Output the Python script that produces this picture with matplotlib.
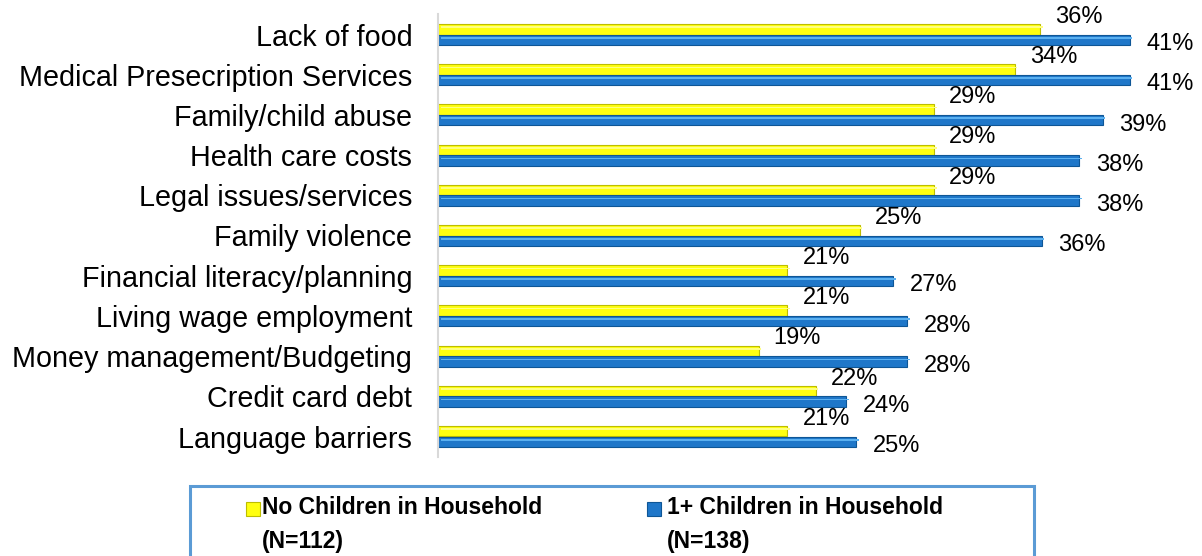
import numpy as np
import matplotlib
matplotlib.use("Agg")
from matplotlib import pyplot as plt
from matplotlib.patches import Rectangle

plt.rcParams['font.family'] = ['Liberation Sans', 'DejaVu Sans']

# data (top to bottom)
categories = ["Lack of food", "Medical Presecription Services", "Family/child abuse",
              "Health care costs", "Legal issues/services", "Family violence",
              "Financial literacy/planning", "Living wage employment",
              "Money management/Budgeting", "Credit card debt", "Language barriers"]
no_children = [35.7, 34.2, 29.4, 29.4, 29.4, 25.0, 20.7, 20.7, 19.0, 22.4, 20.7]
with_children = [41.0, 41.0, 39.4, 38.0, 38.0, 35.8, 27.0, 27.8, 27.8, 24.2, 24.8]
series_names = ["No Children in Household\n(N=112)", "1+ Children in Household\n(N=138)"]

fig = plt.figure(figsize=(12.02, 5.56), dpi=100)
ax = fig.add_axes([438/1202, 1-456.6/556, 764/1202, 442.2/556])

y = np.arange(len(categories))
h = 0.26

# yellow series: face + darker edge + light stripe
ax.barh(y - h/2, no_children, height=h, color='#FFFF10', edgecolor='#BDBD00', lw=0.8)
ax.barh(y - h/2 - 0.05, no_children, height=0.04, color='#FFFF80', lw=0, left=0.15)
# blue series
ax.barh(y + h/2, with_children, height=h, color='#1F77C9', edgecolor='#0E5696', lw=0.8)
ax.barh(y + h/2 - 0.05, with_children, height=0.04, color='#5AB0F0', lw=0, left=0.15)

# value labels
for yi, v in zip(y, no_children):
    ax.annotate('%.0f%%' % v, (v, yi - h/2), xytext=(28, 9.0), textcoords='offset points',
                ha='center', va='center', fontsize=17, annotation_clip=False)
for yi, v in zip(y, with_children):
    ax.annotate('%.0f%%' % v, (v, yi + h/2), xytext=(29, -3.2), textcoords='offset points',
                ha='center', va='center', fontsize=17, annotation_clip=False)

ax.set_xlim(0, 764/16.87)
ax.set_ylim(len(categories) - 0.5, -0.5)
ax.set_yticks(y)
ax.set_yticklabels(categories, fontsize=20.7)
ax.set_xticks([])
ax.tick_params(axis='y', length=0, pad=18.5)
for s in ['top', 'right', 'bottom']:
    ax.spines[s].set_visible(False)
ax.spines['left'].set_color('#D9D9D9')
ax.spines['left'].set_linewidth(1.5)

# legend box (drawn by hand to match the layout)
W, H = 1202., 556.
fig.patches.append(Rectangle((190/W, -0.05), (1034-190)/W, (1-485.5/H) + 0.05,
                             transform=fig.transFigure, fill=False,
                             edgecolor='#5B9BD5', lw=2.2))
marker_x = [245.5, 646.5]
text_x = [262, 667]
colors = ['#FFFF10', '#1F77C9']
edges = ['#BDBD00', '#0E5696']
for mx, tx, c, e, name in zip(marker_x, text_x, colors, edges, series_names):
    fig.patches.append(Rectangle((mx/W, 1-516/H), 14/W, 14/H, transform=fig.transFigure,
                                 facecolor=c, edgecolor=e, lw=0.8))
    fig.text(tx/W, 1-496/H, name, ha='left', va='top', fontsize=16.5,
             fontweight='bold', linespacing=1.6)

fig.savefig("out.png", dpi=100)
